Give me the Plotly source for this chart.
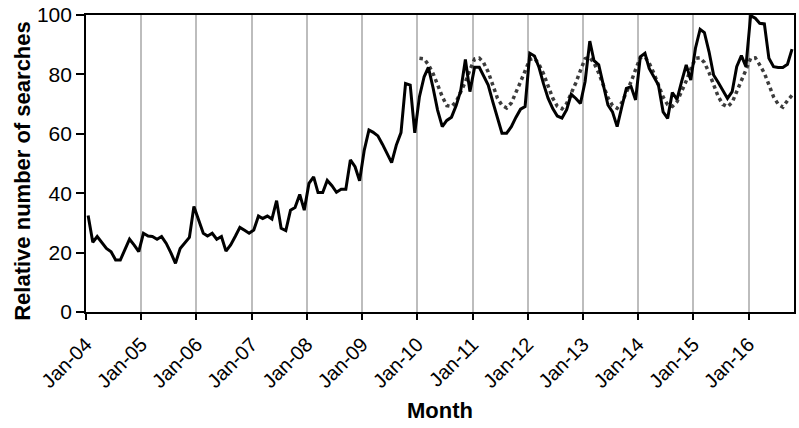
import plotly.graph_objects as go
import pandas as pd

# Monthly relative search volume, Jan-2004 .. Oct-2016
searches_2004 = [32.5, 23.5, 25.4, 23.3, 21.4, 20.3, 17.5, 17.5, 21, 24.5, 22.5, 20.3]
searches_2005 = [26.5, 25.6, 25.4, 24.5, 25.4, 23.1, 20, 16.4, 21.4, 23.1, 25.1, 35.5]
searches_2006 = [31, 26.5, 25.6, 26.5, 24.5, 25.4, 20.5, 22.6, 25.5, 28.5, 27.5, 26.5]
searches_2007 = [27.6, 32.3, 31.5, 32.3, 31.3, 37.5, 28.2, 27.4, 34.3, 35.2, 39.6, 34.3]
searches_2008 = [43.3, 45.5, 40.2, 40.2, 44.3, 42.5, 40.3, 41.3, 41.3, 51.2, 48.9, 44.2]
searches_2009 = [54.5, 61.3, 60.5, 59.3, 56.5, 53.5, 50.3, 56.2, 60.4, 76.9, 76.4, 60.3]
searches_2010 = [72.5, 79.2, 82.4, 75.5, 68, 62.4, 64.5, 65.6, 69.5, 74.5, 85, 74.2]
searches_2011 = [82.4, 82.4, 79.5, 76.4, 70.8, 65.5, 60.2, 60.2, 62.4, 65.5, 68.3, 69.2]
searches_2012 = [87.1, 86.2, 82.5, 76.8, 72, 68.5, 66, 65.3, 68.1, 73.3, 71.9, 70.2]
searches_2013 = [77.6, 91.2, 84.6, 83.2, 76, 69.7, 67.4, 62.4, 69.1, 75.3, 75.9, 71.4]
searches_2014 = [85.9, 87.1, 82, 79, 76.4, 67.4, 65.2, 73.9, 71.6, 77.5, 83.2, 78.1]
searches_2015 = [88.8, 95.2, 94.1, 87.6, 79.8, 77.3, 74.5, 71.9, 74.2, 82.6, 86.3, 82.6]
searches_2016 = [99.8, 98.9, 97.2, 97, 85.4, 82.6, 82.3, 82.3, 83.4, 88.5]

# Seasonal model (dotted), Jan-2010 .. Oct-2016
model_2010 = [85.4, 85.2, 83.3, 80.3, 76.5, 72.5, 69.5, 69.2, 70.8, 74, 77.5, 81.5]
model_2011 = [85.2, 85.5, 84, 80.8, 76.6, 72, 69.6, 68.7, 70.4, 73.6, 77.5, 81.2]
model_2012 = [85, 85.4, 83.5, 80.2, 76.2, 72, 69.3, 68.4, 70.2, 73.5, 77.2, 81.3]
model_2013 = [85.3, 85.7, 83.8, 80.5, 76.5, 72.2, 69.5, 68.6, 70.5, 73.8, 77.5, 81.6]
model_2014 = [85.6, 85.9, 83.8, 80.4, 76.4, 72.4, 69.8, 69.2, 70.8, 74, 77.8, 81.8]
model_2015 = [85.4, 85.6, 84, 80.6, 76.6, 72.5, 69.9, 69.1, 70.6, 74, 77.6, 81.5]
model_2016 = [85.4, 85.6, 83.2, 80.4, 76.5, 72.4, 70, 69, 71.2, 73]

y_ticks = [0, 20, 40, 60, 80, 100]

searches = (searches_2004 + searches_2005 + searches_2006 + searches_2007 + searches_2008
            + searches_2009 + searches_2010 + searches_2011 + searches_2012 + searches_2013
            + searches_2014 + searches_2015 + searches_2016)
model = model_2010 + model_2011 + model_2012 + model_2013 + model_2014 + model_2015 + model_2016

months_all = pd.date_range("2004-01-01", periods=len(searches), freq="MS") + pd.Timedelta(days=14)
months_model = pd.date_range("2010-01-01", periods=len(model), freq="MS") + pd.Timedelta(days=14)

FONT = "Liberation Sans, Arial, sans-serif"

fig = go.Figure()
fig.add_trace(go.Scatter(x=months_model, y=model, mode="lines",
                         line=dict(color="#3c3c3c", width=3.5, dash="3.5px,3.5px"),
                         showlegend=False, hoverinfo="skip"))
fig.add_trace(go.Scatter(x=months_all, y=searches, mode="lines",
                         line=dict(color="#000000", width=3),
                         showlegend=False))

fig.update_layout(
    width=799, height=428,
    margin=dict(l=86, r=3, t=15, b=116),
    paper_bgcolor="white", plot_bgcolor="white",
    font=dict(family=FONT, size=20, color="black"),
    xaxis=dict(
        type="date",
        range=["2004-01-01", "2016-10-28"],
        tick0="2004-01-01", dtick="M12", tickformat="%b-%y",
        tickangle=-45,
        showgrid=True, gridcolor="#bdbdbd", gridwidth=1.5,
        showline=True, linecolor="black", linewidth=1.7, mirror=True,
        ticks="outside", ticklen=6, tickwidth=1.5, tickcolor="black",
        tickfont=dict(family=FONT, size=20),
        ticklabelstandoff=5,
        zeroline=False,
    ),
    yaxis=dict(
        range=[0, 100],
        tickvals=y_ticks,
        showgrid=False,
        showline=True, linecolor="black", linewidth=1.7, mirror=True,
        ticks="outside", ticklen=8, tickwidth=1.5, tickcolor="black",
        tickfont=dict(family=FONT, size=21),
        zeroline=False,
    ),
    annotations=[
        dict(text="<b>Month</b>", xref="paper", yref="paper", x=0.5, y=-0.333,
             xanchor="center", yanchor="middle", showarrow=False,
             font=dict(family=FONT, size=22)),
        dict(text="<b>Relative number of searches</b>", xref="paper", yref="paper",
             x=-0.090, y=0.4764, xanchor="center", yanchor="middle", textangle=-90,
             showarrow=False, font=dict(family=FONT, size=22)),
    ],
)

fig.write_html("out.html", config={"displayModeBar": False},
               post_script="document.body.style.margin='0';document.body.style.overflow='hidden';")
